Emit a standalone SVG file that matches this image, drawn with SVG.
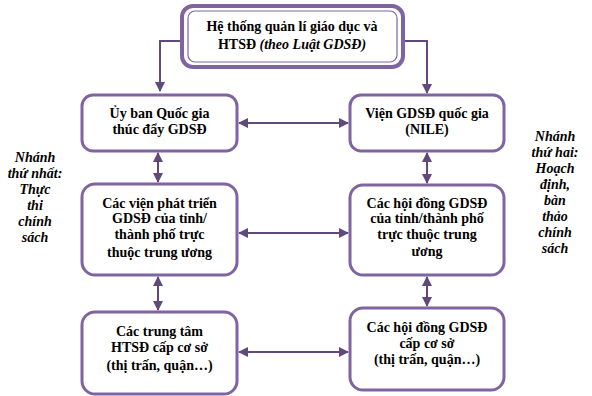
<svg xmlns="http://www.w3.org/2000/svg" width="592" height="396" viewBox="0 0 592 396">
<defs>
<style>
.box{fill:#fff;stroke:#8064a2;stroke-width:3}
.t{font-family:"Liberation Serif","DejaVu Serif",serif;font-size:14px;font-weight:bold;fill:#000;text-anchor:middle}
.side{font-family:"Liberation Serif","DejaVu Serif",serif;font-size:14px;font-weight:bold;font-style:italic;fill:#000;text-anchor:middle}
.c{fill:none;stroke:#604a7b;stroke-width:2}
</style>
<marker id="ah" viewBox="0 0 10 10" refX="9" refY="5" markerWidth="5" markerHeight="5" orient="auto-start-reverse" markerUnits="strokeWidth">
<path d="M0,0 L10,5 L0,10 Z" fill="#604a7b"/>
</marker>
</defs>
<rect width="592" height="396" fill="#fff"/>
<g id="connectors">
<path class="c" d="M182,41 H160 V91" marker-end="url(#ah)"/>
<path class="c" d="M403,41 H427 V93" marker-end="url(#ah)"/>
<path class="c" d="M239,123 H348" marker-start="url(#ah)" marker-end="url(#ah)"/>
<path class="c" d="M239,233 H348" marker-start="url(#ah)" marker-end="url(#ah)"/>
<path class="c" d="M239,352 H348" marker-start="url(#ah)" marker-end="url(#ah)"/>
<path class="c" d="M158,153 V182" marker-start="url(#ah)" marker-end="url(#ah)"/>
<path class="c" d="M427,153 V183" marker-start="url(#ah)" marker-end="url(#ah)"/>
<path class="c" d="M158,277 V310" marker-start="url(#ah)" marker-end="url(#ah)"/>
<path class="c" d="M427,277 V306" marker-start="url(#ah)" marker-end="url(#ah)"/>
</g>
<g id="top">
<rect x="182" y="6" width="221" height="61" rx="11" fill="#fff" stroke="#8064a2" stroke-width="4"/>
<rect x="188" y="11" width="209" height="51" rx="7" fill="none" stroke="#8064a2" stroke-width="1.2"/>
<text class="t" x="292" y="31">Hệ thống quản lí giáo dục và</text>
<text class="t" x="292" y="49">HTSĐ <tspan font-style="italic">(theo Luật GDSĐ)</tspan></text>
</g>
<g id="l1">
<rect class="box" x="82" y="95" width="155" height="56" rx="11"/>
<text class="t" x="159.5" y="118">Ủy ban Quốc gia</text>
<text class="t" x="159.5" y="134">thúc đẩy GDSĐ</text>
</g>
<g id="r1">
<rect class="box" x="350" y="95" width="154" height="56" rx="11"/>
<text class="t" x="427" y="118">Viện GDSĐ quốc gia</text>
<text class="t" x="427" y="134">(NILE)</text>
</g>
<g id="l2">
<rect class="box" x="82" y="184" width="155" height="91" rx="13"/>
<text class="t" x="159.5" y="208">Các viện phát triển</text>
<text class="t" x="159.5" y="223">GDSĐ của tỉnh/</text>
<text class="t" x="159.5" y="239">thành phố trực</text>
<text class="t" x="159.5" y="257">thuộc trung ương</text>
</g>
<g id="r2">
<rect class="box" x="350" y="185" width="154" height="90" rx="13"/>
<text class="t" x="427" y="208">Các hội đồng GDSĐ</text>
<text class="t" x="427" y="223">của tỉnh/thành phố</text>
<text class="t" x="427" y="239">trực thuộc trung</text>
<text class="t" x="427" y="256">ương</text>
</g>
<g id="l3">
<rect class="box" x="82" y="312" width="155" height="82" rx="13"/>
<text class="t" x="159.5" y="336">Các trung tâm</text>
<text class="t" x="159.5" y="352">HTSĐ cấp cơ sở</text>
<text class="t" x="159.5" y="370">(thị trấn, quận…)</text>
</g>
<g id="r3">
<rect class="box" x="350" y="308" width="154" height="82" rx="13"/>
<text class="t" x="427" y="332">Các hội đồng GDSĐ</text>
<text class="t" x="427" y="348">cấp cơ sở</text>
<text class="t" x="427" y="364">(thị trấn, quận…)</text>
</g>
<g id="left-label">
<text class="side" x="35" y="162">Nhánh</text>
<text class="side" x="35" y="178">thứ nhất:</text>
<text class="side" x="35" y="194">Thực</text>
<text class="side" x="35" y="210">thi</text>
<text class="side" x="35" y="226">chính</text>
<text class="side" x="35" y="242">sách</text>
</g>
<g id="right-label">
<text class="side" x="555" y="141">Nhánh</text>
<text class="side" x="555" y="157">thứ hai:</text>
<text class="side" x="555" y="173">Hoạch</text>
<text class="side" x="555" y="189">định,</text>
<text class="side" x="555" y="205">bàn</text>
<text class="side" x="555" y="221">thảo</text>
<text class="side" x="555" y="237">chính</text>
<text class="side" x="555" y="253">sách</text>
</g>
</svg>
